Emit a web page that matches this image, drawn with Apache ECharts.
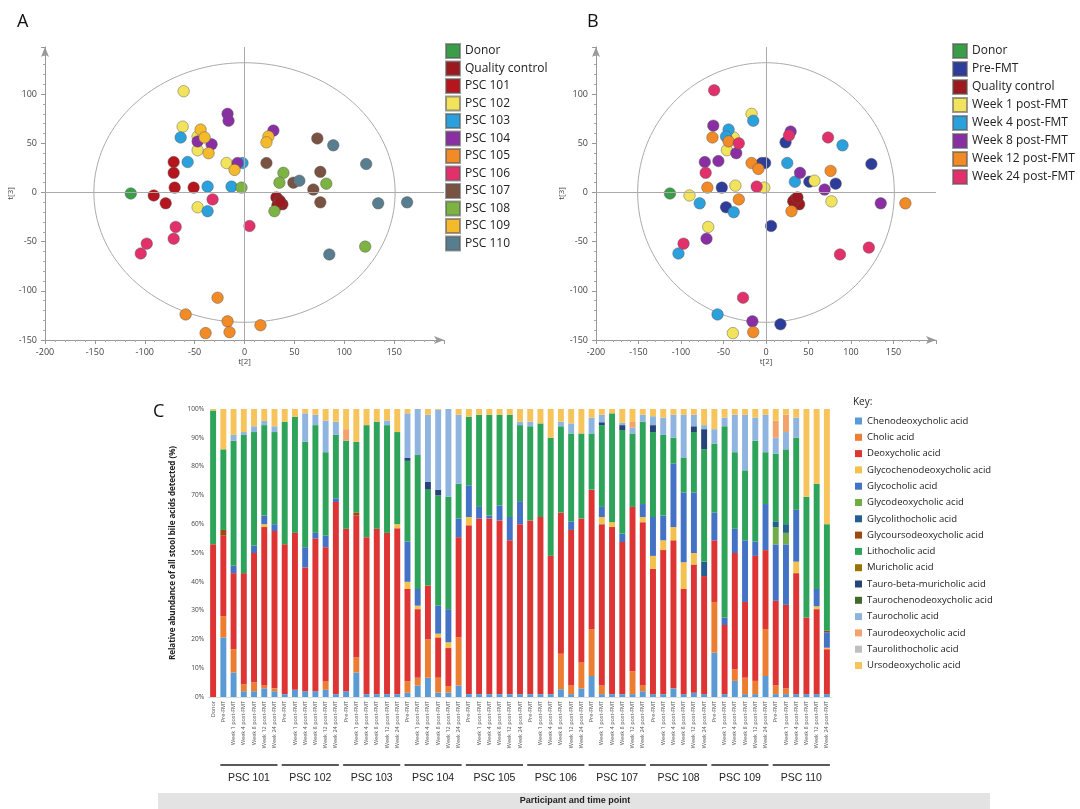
<!DOCTYPE html>
<html><head><meta charset="utf-8">
<script src="https://cdn.jsdelivr.net/npm/echarts@6/dist/echarts.min.js"></script>
<style>html,body{margin:0;padding:0;background:#fff}#c{width:1080px;height:809px}</style>
</head><body><div id="c"></div>
<script>
// ---------- Panel A (PCA coloured by participant) ----------
const groupsA = ['Donor','Quality control','PSC 101','PSC 102','PSC 103','PSC 104','PSC 105','PSC 106','PSC 107','PSC 108','PSC 109','PSC 110'];
const colorsA = ['#3a9d48','#9c1a1f','#b5161d','#f2e35c','#2aa0dc','#8a2fa3','#f28a26','#e2306b','#7a5242','#7cb342','#f5b92c','#587d8f'];
const pointsA = [
  [[-114,-1]],
  [[32,-5],[35,-8],[38,-12],[33,-13],[36,-10]],
  [[-91,-3],[-79,-11],[-71,31],[-71,20],[-70,5],[-51,5]],
  [[-61,103],[-62,67],[-47,57],[-47,43],[-18,30],[-47,-15]],
  [[-64,56],[-57,31],[-37,6],[-13,6],[-2,30],[-37,-19]],
  [[-17,80],[-16,73],[-33,49],[-47,52],[-7,30],[29,63]],
  [[-27,-107],[-59,-124],[-17,-131],[-15,-142],[-39,-143],[16,-135]],
  [[-32,-7],[-69,-35],[-71,-47],[-98,-52],[-104,-62],[5,-34]],
  [[73,55],[22,30],[49,10],[76,21],[69,3],[76,-10]],
  [[39,20],[35,10],[-3,5],[30,-19],[82,9],[121,-55]],
  [[-44,64],[-40,56],[-36,40],[-10,23],[24,57],[22,51]],
  [[89,48],[122,29],[55,12],[134,-11],[163,-10],[85,-63]]
];
// ---------- Panel B (PCA coloured by time point) ----------
const groupsB = ['Donor','Pre-FMT','Quality control','Week 1 post-FMT','Week 4 post-FMT','Week 8 post-FMT','Week 12 post-FMT','Week 24 post-FMT'];
const colorsB = ['#3a9d48','#2d3d99','#9c1a1f','#f2e35c','#2aa0dc','#8a2fa3','#f28a26','#e2306b'];
const pointsB = [
  [[-113,-1]],
  [[-52,5],[-47,-15],[-5,30],[-1,30],[23,51],[6,-34],[17,-134],[124,29],[82,9],[51,11]],
  [[34,-7],[36,-10],[39,-12],[32,-9],[37,-5]],
  [[-90,-3],[-68,-35],[-46,43],[-36,7],[-17,80],[-2,5],[57,12],[77,-9],[-39,-143],[-38,56]],
  [[-78,-11],[-103,-62],[-38,-20],[-44,64],[-47,57],[-15,73],[25,30],[34,11],[90,48],[-57,-124]],
  [[-72,31],[-56,32],[-62,68],[-35,40],[-70,-47],[29,62],[40,20],[69,3],[135,-11],[-16,-131]],
  [[-63,56],[-69,5],[-32,-7],[-17,30],[-9,24],[76,22],[30,-19],[164,-11],[-15,-142],[-44,52]],
  [[-61,104],[-71,20],[-97,-52],[-32,50],[-11,6],[27,58],[73,56],[87,-63],[121,-56],[-27,-107]]
];
const ellipseRadius = [151, 132];

// ---------- Panel C (stacked bars) ----------
const participants = ['PSC 101','PSC 102','PSC 103','PSC 104','PSC 105','PSC 106','PSC 107','PSC 108','PSC 109','PSC 110'];
const timepoints = ['Pre-FMT','Week 1 post-FMT','Week 4 post-FMT','Week 8 post-FMT','Week 12 post-FMT','Week 24 post-FMT'];
const categories = ['Donor'].concat(...participants.map(()=>timepoints));
const acidNames = ['Chenodeoxycholic acid','Cholic acid','Deoxycholic acid','Glycochenodeoxycholic acid','Glycocholic acid','Glycodeoxycholic acid','Glycolithocholic acid','Glycoursodeoxycholic acid','Lithocholic acid','Muricholic acid','Tauro-beta-muricholic acid','Taurochenodeoxycholic acid','Taurocholic acid','Taurodeoxycholic acid','Taurolithocholic acid','Ursodeoxycholic acid'];
const acidColors = ['#5b9bd5','#ed7d31','#de3434','#f2c14e','#4472c4','#70ad47','#255e91','#9e480e','#2ea35a','#997300','#264478','#43682b','#8fb4e0','#f4a26b','#bfbfbf','#f6c45b'];
const cheno = [0,20.7,8.5,2,2,3,2, 1,2.5,2,2,2.5,1, 2,8.5,1,1,1,1, 1.5,4,6.7,1.5,1.5,4, 1,1,1,1,1,1, 1,1,1,2.7,1,3, 7.3,1,1,1,1,2, 1,1,3,1,1.5,1, 15.4,1,5.6,1,1,7.3, 1,1,1,1,1,1];
const cholic = [0, 7.3,8.1,2.4,3,1,1, 0,0,0,0,3,0, 0,5.2,0,0,0,0, 4,2.7,13.3,5.2,2.3,16.7, 0,0,0,0,0,0, 0,0,0,12.3,3,9, 16.3,3,0,0,8,2, 0,0,0,0,0,0, 17.6,0,4,5.7,4.6,16.3, 3,2,0,0,0,0];
const deoxy = [53, 28,26.4,38.6,45,55,54.6, 52,54.5,43,53,46.5,66.7, 56.4,49.3,54.5,57.4,56,57.6, 32,23.8,18.7,14,13.2,34.8, 58.6,61,61,60.3,53.4,59, 60.3,61.5,48,49,54,50, 48.4,56,58,52.8,57,56.7, 43.5,50,51.4,36.5,44.5,41, 21.4,24,40.4,26.3,43.4,27.4, 29.4,29,42,26.6,29.5,15.6];
const gcdca = [0, 0,0,0,0,1,0, 0,0,0,0,0,0, 0,0,0,0,0,1.4, 2.5,1.2,0,1.3,2,0, 2.9,0,0,0,0,0, 0,0,0,0,0,0, 0,2.5,1.7,0,0,1.8, 4.5,3.4,4.6,9.3,4,0, 0,0,0,0,0,0, 0,0,4,0,1,0.5];
const gca = [0, 0,2.6,0,2.6,3,2.4, 0,0,7,2,4,1.3, 0,0,0,0,0,0, 14,5.8,0,9.7,11.5,6.5, 11,4,1,5.2,8.1,8, 0,0,0,0,3,0, 0,3.5,0,2.9,0,4.5, 13.5,8.6,22,24.2,21,0, 9.6,2.6,8.4,21.4,5,16, 19.6,21,18,0,6,5.4];
const gdca = [0, 0,0,0,0,0,0, 0,0,0,0,0,0, 0,0,0,0,0,0, 0,0,0,0,0,0, 0,0,0,0,0,0, 0,0,0,0,0,0, 0,0,0,0,0,0, 0,0,0,0,0,0, 0,0,0,0,0,0, 6,4,0,0,0,0];
const glca = [0, 0,0,0,0,0,0, 0,0,0,0,0,0, 0,0,0,0,0,0, 0,0,0,0,0,0, 0,0,0,0,0,0, 0,0,0,0,0,0, 0,0,0,0,0,0, 0,0,0,0,0,5, 0,0,0,0,0,0, 2,3,0,0,0,0];
const gudca = [0, 2,0,0,0,0,0, 0,0,0,0,0,0, 0,1.1,0,0,0,0, 0,0,0,0,0,0, 0,0,0,0,0,0, 0,0,0,0,0,0, 0,0,0,0,0,0, 0,0,0,0,0,0, 0,0,0,0,0,0, 0,0,0,0,0,0.5];
const lca = [46.5, 28,43.4,48,39.4,31.4,32, 42.6,40.3,36.6,37.4,29,22, 30.6,24.5,38.9,37.2,37.4,32, 28,46.5,33.3,38.3,39,12, 23.8,32,35,31.5,35.5,26.4, 32.7,32.5,41,30,30.5,29.5, 19.5,28.4,37.8,36,25.5,28.6, 29.5,28,9,12,21,39, 24,66.4,26.6,24.3,35,18, 23.5,26,25,41.9,36.5,37];
const mca = new Array(61).fill(0);
const tbmca = [0, 0,0,0,0,0,0, 0,0,0,0,0,0, 0,0,0,0,0,0, 1,0,2.7,2,0,0, 0,0,0,0,0,0, 0,0,0,0,0,0, 0,1,0,1.7,0,0, 2.4,0,0,0,2,7, 0,0,0,0,0,0, 0,0,0,0,0,0];
const tcdca = new Array(61).fill(0);
const tca = [0, 0,2,1,2,1.5,2, 0,0,9.9,3.6,11,4.6, 0,0,0,0,1.6,0, 15.5,16,23.3,27.7,30.5,24, 0,0,0,0,0,1.2, 1.6,0,0,1.6,3.5,0, 5.5,2.6,0,0.8,2,2.4, 3.1,6,8,15,4,1.4, 5,3,13,19.3,8,13, 5.5,6,7,0,0,0];
const tdca = [0, 0,0,0,0,0,0, 0,0,0,0,0,0, 4,0,0,0,0,0, 0,0,0,0,0,0, 0,0,0,0,0,0, 0,0,0,0,0,0, 0,0,0,0,2,0, 0,0,0,0,0,0, 0,0,0,0,0,0, 6,6,0,0,0,0];
const tlca = new Array(61).fill(0);
const udca = [0.5, 14,9,8,6,4.1,6, 4.4,2.7,1.5,2,4,4.4, 7,11.4,5.6,4.4,4,8, 1.5,0,2,0.3,0,2, 2.7,2,2,2,2,4.4, 4.4,5,10,4.4,5,8.5, 3,2,1.5,4.8,4.5,2, 2.5,3,2,2,2,5.6, 7,3,2,2,3,2, 4,2,3,30.5,26,40];
const acidValues = [cheno,cholic,deoxy,gcdca,gca,gdca,glca,gudca,lca,mca,tbmca,tcdca,tca,tdca,tlca,udca];

const FONT = 'Open Sans, Liberation Sans, sans-serif';
const chart = echarts.init(document.getElementById('c'));

function ellipse(){ const d=[]; for(let i=0;i<=180;i++){const a=i/180*2*Math.PI; d.push([ellipseRadius[0]*Math.cos(a), ellipseRadius[1]*Math.sin(a)]);} return d; }
function scatterAxes(gi){
  const common = {gridIndex:gi, type:'value', interval:50,
    axisLine:{show:true,onZero:false,lineStyle:{color:'#999'},symbol:['none','arrow'],symbolSize:[6,10]},
    axisTick:{show:true,length:4,lineStyle:{color:'#999'}}, minorTick:{show:true,splitNumber:5,length:2,lineStyle:{color:'#aaa'}},
    splitLine:{show:false}, axisLabel:{color:'#444',fontSize:9,fontFamily:FONT,showMaxLabel:false}};
  return {
    x: Object.assign({}, common, {min:-200,max:200,name:'t[2]',nameLocation:'middle',nameGap:14,nameTextStyle:{fontSize:8,color:'#444'}}),
    y: Object.assign({}, common, {min:-150,max:148,name:'t[3]',nameLocation:'middle',nameGap:14,nameTextStyle:{fontSize:8,color:'#444'}})
  };
}
const aA = scatterAxes(0), aB = scatterAxes(1);
const series = [];
function addScatter(groups, colors, pts, xi){
  series.push({type:'line',xAxisIndex:xi,yAxisIndex:xi,data:ellipse(),showSymbol:false,silent:true,lineStyle:{color:'#aaa',width:1},z:1,
    markLine:{silent:true,symbol:'none',label:{show:false},lineStyle:{color:'#aaa',type:'solid',width:1},data:[{xAxis:0},{yAxis:0}]}});
  groups.forEach((g,i)=>series.push({type:'scatter',name:g,xAxisIndex:xi,yAxisIndex:xi,data:pts[i],symbolSize:11.5,
    itemStyle:{color:colors[i],borderColor:'rgba(90,90,90,0.6)',borderWidth:0.8,opacity:1},z:3}));
}
addScatter(groupsA, colorsA, pointsA, 0);
addScatter(groupsB, colorsB, pointsB, 1);
acidNames.forEach((n,i)=>series.push({type:'bar',name:n,stack:'bile',xAxisIndex:2,yAxisIndex:2,data:acidValues[i],barWidth:'58%',itemStyle:{color:acidColors[i]}}));

const legendBase = {orient:'vertical',icon:'rect',textStyle:{fontSize:12,fontFamily:FONT,color:'#222'}};
chart.setOption({
  animation:false,
  textStyle:{fontFamily:FONT},
  title:[
    {text:'A',left:12,top:8,textStyle:{fontSize:18,fontWeight:'normal',color:'#111'}},
    {text:'B',left:582,top:8,textStyle:{fontSize:18,fontWeight:'normal',color:'#111'}},
    {text:'C',left:148,top:398,textStyle:{fontSize:18,fontWeight:'normal',color:'#111'}},
    {text:'Key:',left:848,top:392,textStyle:{fontSize:10,fontWeight:'normal',color:'#222'}}
  ],
  legend:[
    Object.assign({},legendBase,{data:groupsA,left:440,top:38,itemWidth:14,itemHeight:14,itemGap:1.5}),
    Object.assign({},legendBase,{data:groupsB,left:947,top:38,itemWidth:14,itemHeight:14,itemGap:2}),
    Object.assign({},legendBase,{data:acidNames,left:850,top:411,itemWidth:7,itemHeight:7,itemGap:6.3,textStyle:{fontSize:9.5,fontFamily:FONT,color:'#222'}})
  ],
  grid:[
    {left:45,top:47,width:399,height:293},
    {left:596,top:47,width:340,height:293},
    {left:208,top:409,width:624,height:288}
  ],
  xAxis:[aA.x, aB.x,
    {gridIndex:2,type:'category',data:categories,axisLine:{lineStyle:{color:'#ddd'}},axisTick:{show:false},
     axisLabel:{rotate:90,fontSize:5.5,color:'#555',interval:0,margin:4}}],
  yAxis:[aA.y, aB.y,
    {gridIndex:2,type:'value',min:0,max:100,interval:10,axisLine:{show:false},axisTick:{show:false},splitLine:{show:false},
     axisLabel:{fontSize:6.5,color:'#444',formatter:'{value}%',margin:4},
     name:'Relative abundance of all stool bile acids detected (%)',nameLocation:'middle',nameGap:26,
     nameTextStyle:{fontSize:8,fontWeight:'bold',color:'#222'}}],
  series:series
});

// group labels under bar chart, positioned from the category axis scale
const gfx = [{type:'rect',shape:{x:158,y:793,width:832,height:16},style:{fill:'#e3e3e3'},z:0},
  {type:'text',x:575,y:801,style:{text:'Participant and time point',fontSize:9,fontWeight:'bold',fill:'#222',align:'center',verticalAlign:'middle'}}];
participants.forEach((p,i)=>{
  const first = 1+i*6, last = first+5;
  const x1 = chart.convertToPixel({xAxisIndex:2}, first) - 3;
  const x2 = chart.convertToPixel({xAxisIndex:2}, last) + 3;
  gfx.push({type:'line',shape:{x1:x1,y1:765,x2:x2,y2:765},style:{stroke:'#222',lineWidth:1.3}});
  gfx.push({type:'text',x:(x1+x2)/2,y:778,style:{text:p,fontSize:10.5,fill:'#222',align:'center',verticalAlign:'middle'}});
});
chart.setOption({graphic:gfx});
</script></body></html>
